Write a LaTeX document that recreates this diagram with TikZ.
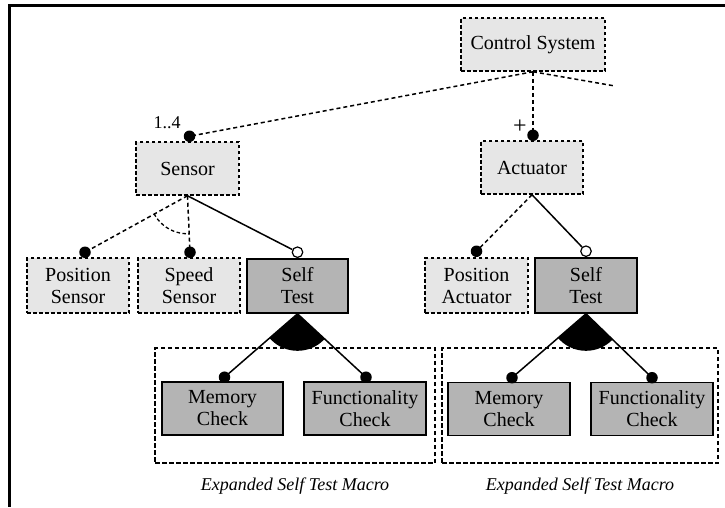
\documentclass[tikz,border=0pt]{standalone}
\usepackage{fontspec}
\setmainfont{Liberation Serif}
\usetikzlibrary{calc}
\definecolor{lightbox}{HTML}{E6E6E6}
\definecolor{darkbox}{HTML}{B4B4B4}
\begin{document}
\begin{tikzpicture}[x=1pt,y=-1pt,
  boxfont/.style={font=\fontsize{20}{22}\selectfont},
  feat/.style={draw, line width=1.5pt, fill=lightbox, dash pattern=on 3.5pt off 2.5pt,
    align=center, inner sep=0pt, boxfont},
  macrofeat/.style={draw, line width=1.6pt, fill=darkbox, align=center, inner sep=0pt, boxfont},
  optlink/.style={line width=1.5pt, dash pattern=on 4pt off 3pt},
  mandlink/.style={line width=1.5pt},
  dotmark/.style={circle, fill=black, inner sep=0pt, minimum size=11.5pt},
  opencirc/.style={circle, draw, fill=white, line width=1.2pt, inner sep=0pt, minimum size=10.5pt},
  macroframe/.style={draw, line width=1.1pt, dash pattern=on 4.5pt off 2.5pt},
  caption/.style={font=\fontsize{18}{20}\selectfont\itshape},
  cardlabel/.style={font=\fontsize{18}{20}\selectfont, inner sep=0pt}
]
\useasboundingbox (0,0) rectangle (725,507);
% frame along the top and left
\draw[line width=3pt] (725,5) -| (9,507);

% feature boxes
\node[feat, minimum width=144pt, minimum height=53pt] (cs) at (533,44.5) {Control System};
\node[feat, minimum width=103pt, minimum height=53pt] (sensor) at (187.5,168.5) {Sensor};
\node[feat, minimum width=102pt, minimum height=53pt] (act) at (532,167.5) {Actuator};
\node[feat, minimum width=102pt, minimum height=55pt] (possens) at (78,285.5) {Position\\Sensor};
\node[feat, minimum width=102pt, minimum height=55pt] (speed) at (189,285.5) {Speed\\Sensor};
\node[macrofeat, minimum width=101pt, minimum height=54pt] (st1) at (297.5,286) {Self\\Test};
\node[feat, minimum width=103pt, minimum height=55pt] (posact) at (476.5,285.5) {Position\\Actuator};
\node[macrofeat, minimum width=102pt, minimum height=55pt] (st2) at (586,285.5) {Self\\Test};
\node[macrofeat, minimum width=121pt, minimum height=53pt] (mem1) at (222.5,408.5) {Memory\\Check};
\node[macrofeat, minimum width=122pt, minimum height=53pt] (fun1) at (365,408.5) {Functionality\\Check};
\node[macrofeat, minimum width=122pt, minimum height=53pt] (mem2) at (509,409) {Memory\\Check};
\node[macrofeat, minimum width=122pt, minimum height=53pt] (fun2) at (652,409) {Functionality\\Check};

% expanded macro frames and their captions
\node[macroframe, minimum width=280pt, minimum height=115pt] (mac1) at (295,405.5) {};
\node[macroframe, minimum width=276pt, minimum height=115pt] (mac2) at (580,405.5) {};
\node[caption] (cap1) at (295,486) {Expanded Self Test Macro};
\node[caption] (cap2) at (580,486) {Expanded Self Test Macro};

% link end markers
\node[dotmark] (dSen) at ($(sensor.north)+(2,-5)$) {};
\node[dotmark] (dAct) at ($(act.north)+(1,-5)$) {};
\node[dotmark] (dPos) at ($(possens.north)+(7,-5)$) {};
\node[dotmark] (dSpd) at ($(speed.north)+(1,-5)$) {};
\node[opencirc] (oSt1) at ($(st1.north)+(0,-6)$) {};
\node[dotmark] (dPosA) at ($(posact.north)+(0,-6)$) {};
\node[opencirc] (oSt2) at ($(st2.north)+(0,-6)$) {};
\node[dotmark] (dMem1) at ($(mem1.north)+(2,-4)$) {};
\node[dotmark] (dFun1) at ($(fun1.north)+(1,-4)$) {};
\node[dotmark] (dMem2) at ($(mem2.north)+(3,-4)$) {};
\node[dotmark] (dFun2) at ($(fun2.north)+(0,-4)$) {};
\coordinate (csRight) at (615,86);

% cardinalities
\node[cardlabel] (card1) at (167,123) {1..4};
\node[cardlabel, font=\fontsize{24}{24}\selectfont] (card2) at (520,127) {+};

% links from Control System
\draw[optlink] (cs.south) -- (dSen.center);
\draw[optlink] (cs.south) -- (dAct.center);
\draw[optlink] (cs.south) -- (csRight);

% links from Sensor
\draw[optlink] (sensor.south) -- (dPos.center);
\draw[optlink] (sensor.south) -- (dSpd.center);
\draw[mandlink] (sensor.south) -- (oSt1);
\begin{scope}
  \clip (sensor.south) -- (dPos.center) -- (dSpd.center) -- cycle;
  \draw[line width=1.3pt, dash pattern=on 3.5pt off 2.5pt] (sensor.south) circle[radius=38pt];
\end{scope}

% links from Actuator
\draw[optlink] (act.south) -- (dPosA.center);
\draw[mandlink] (act.south) -- (oSt2);

% Self Test macro expansions
\draw[mandlink] (st1.south) -- (dMem1.center);
\draw[mandlink] (st1.south) -- (dFun1.center);
\begin{scope}
  \clip (st1.south) -- (dMem1.center) -- (dFun1.center) -- cycle;
  \fill (st1.south) circle[radius=37pt];
\end{scope}
\draw[mandlink] (st2.south) -- (dMem2.center);
\draw[mandlink] (st2.south) -- (dFun2.center);
\begin{scope}
  \clip (st2.south) -- (dMem2.center) -- (dFun2.center) -- cycle;
  \fill (st2.south) circle[radius=37pt];
\end{scope}
\end{tikzpicture}
\end{document}
